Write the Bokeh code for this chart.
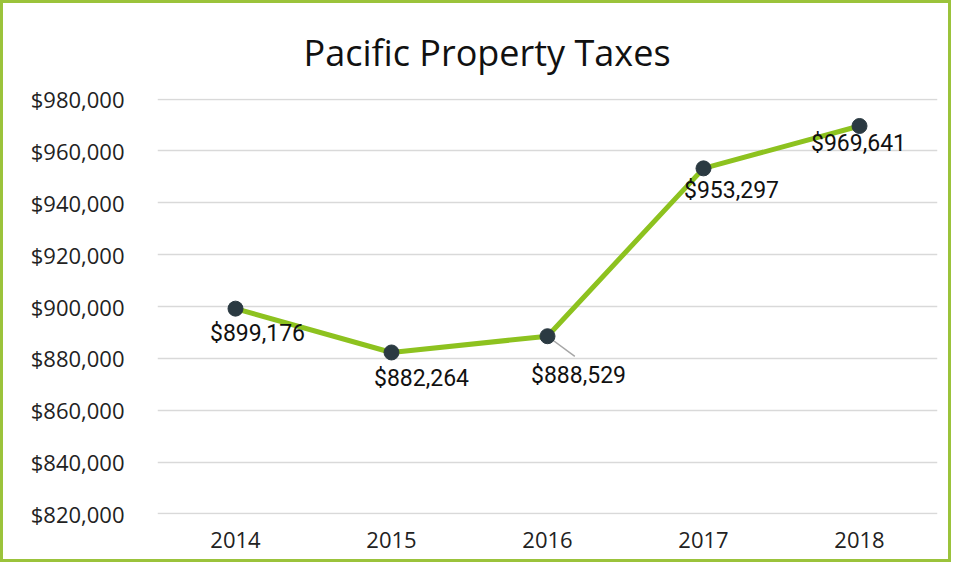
from bokeh.plotting import figure
from bokeh.models import ColumnDataSource, NumeralTickFormatter, Range1d, FixedTicker
from bokeh.core.properties import value
from bokeh.embed import file_html
from bokeh.resources import INLINE
import math

title_text = "Pacific Property Taxes"
years = ["2014", "2015", "2016", "2017", "2018"]
taxes = [899176, 882264, 888529, 953297, 969641]
labels = ["$899,176", "$882,264", "$888,529", "$953,297", "$969,641"]
y_ticks = [820000, 840000, 860000, 880000, 900000, 920000, 940000, 960000, 980000]

# label placement (style, screen px)
label_dx = [22, 30, 31, 28, -1]
label_dy = [25, 26, 39, 22, 18]

GREEN = "#8DC21F"
BORDER = "#9BC33B"
DOT = "#2B3A42"

W, H = 951, 562
p = figure(x_range=years, y_range=Range1d(y_ticks[0] - 250, y_ticks[-1] + 250),
           width=W, height=H, output_backend="svg", toolbar_location=None,
           min_border_left=154, min_border_right=17, min_border_top=95, min_border_bottom=51)
p.styles = {"border": f"3px solid {BORDER}"}

p.title.text = title_text
p.title.align = "left"
p.title.offset = 146
p.title.vertical_align = "top"
p.title.text_font = "Open Sans"
p.title.text_font_size = "36px"
p.title.text_font_style = "normal"
p.title.text_color = "#111111"
p.title.standoff = 40

p.outline_line_color = None
p.background_fill_color = "white"
p.border_fill_color = "white"

p.xgrid.grid_line_color = None
p.ygrid.grid_line_color = "#D9D9D9"
p.ygrid.grid_line_width = 1.5

p.yaxis.ticker = FixedTicker(ticks=y_ticks)
p.yaxis.formatter = NumeralTickFormatter(format="$0,0")
for ax in (p.xaxis, p.yaxis):
    ax.axis_line_color = None
    ax.major_tick_line_color = None
    ax.minor_tick_line_color = None
    ax.major_label_text_font = "Open Sans"
    ax.major_label_text_font_size = "22px"
    ax.major_label_text_color = "#222222"
p.yaxis.major_label_standoff = 27
p.xaxis.major_label_standoff = 11
p.x_range.range_padding = 0

src = ColumnDataSource(dict(x=years, y=taxes, lab=labels, dx=label_dx, dy=label_dy))

p.line("x", "y", source=src, line_color=GREEN, line_width=5)
# leader line for 2016 label
p.ray(x=[years[2]], y=[taxes[2]], length=34, length_units="screen",
      angle=-math.atan2(20, 27), line_color="#A6A6A6", line_width=1.5)
p.scatter("x", "y", source=src, size=15, fill_color=DOT, line_color=DOT)
p.text("x", "y", text="lab", source=src, x_offset="dx", y_offset="dy",
       text_align="center", text_baseline="middle",
       text_font=value("Roboto"), text_font_size="23px", text_color="#111111")

open("out.html", "w").write(file_html(p, INLINE))
